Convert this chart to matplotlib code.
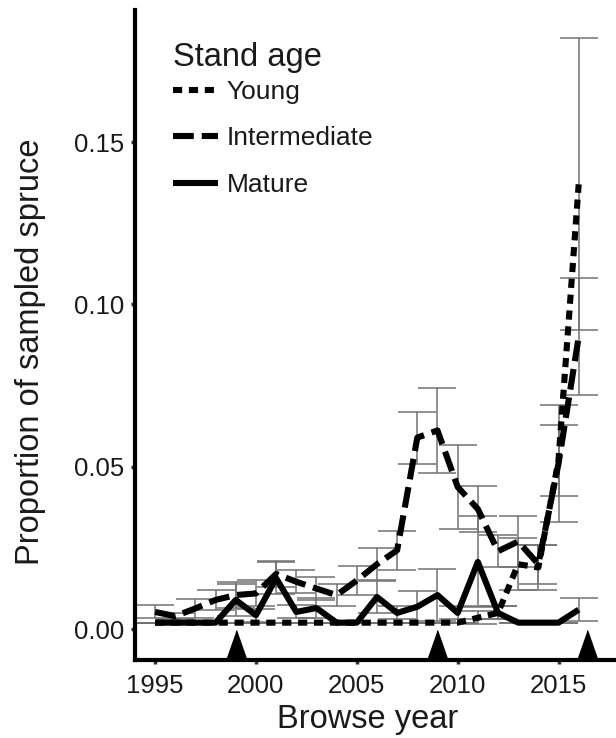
import numpy as np
from matplotlib import pyplot as plt

plt.rcParams['font.family'] = ['Liberation Sans', 'DejaVu Sans']

TEXT = '#1a1a1a'

years = list(range(1995, 2017))

young = [0.002, 0.002, 0.002, 0.002, 0.002, 0.002, 0.002, 0.002, 0.002, 0.002, 0.002,
         0.002, 0.002, 0.002, 0.002, 0.002, 0.0035, 0.005, 0.020, 0.019, 0.052, 0.137]
young_se = [0, 0, 0, 0, 0, 0, 0, 0, 0, 0, 0,
            0, 0, 0, 0, 0, 0.002, 0.002, 0.008, 0.007, 0.011, 0.045]

intermediate = [0.0053, 0.004, 0.0064, 0.009, 0.0105, 0.011, 0.017, 0.0146, 0.0125, 0.0105, 0.015,
                0.020, 0.0243, 0.059, 0.0612, 0.0438, 0.037, 0.024, 0.027, 0.020, 0.051, 0.090]
intermediate_se = [0.002, 0.001, 0.003, 0.003, 0.004, 0.004, 0.004, 0.0035, 0.0035, 0.0035, 0.0045,
                   0.005, 0.006, 0.008, 0.013, 0.013, 0.007, 0.005, 0.008, 0.006, 0.018, 0.018]

mature = [0.002, 0.002, 0.002, 0.002, 0.009, 0.0043, 0.0157, 0.0053, 0.0065, 0.002, 0.002,
          0.0099, 0.005, 0.0069, 0.0105, 0.005, 0.0207, 0.005, 0.002, 0.002, 0.002, 0.006]
mature_se = [0, 0, 0, 0, 0.005, 0.002, 0.005, 0.002, 0.003, 0, 0,
             0.005, 0.002, 0.005, 0.008, 0.002, 0.014, 0.002, 0, 0, 0, 0.0035]

outbreak_years = [1999, 2009, 2016.4]

series = [
    ('Young', young, young_se, (1.5, 1.1)),
    ('Intermediate', intermediate, intermediate_se, (3.4, 1.3)),
    ('Mature', mature, mature_se, None),
]

fig = plt.figure(figsize=(6.16, 7.38), dpi=100)
ax = fig.add_axes([0.219, 0.1057, 0.781, 0.8808])

for name, vals, se, dash in series:
    ax.errorbar(years, vals, yerr=se, fmt='none', ecolor='#727272',
                elinewidth=1.1, capsize=13.5, capthick=1.1, zorder=1)

for name, vals, se, dash in series:
    line, = ax.plot(years, vals, color='black', lw=4.4, label=name,
                    solid_capstyle='butt', dash_capstyle='butt', zorder=2)
    if dash is not None:
        line.set_dashes(dash)

# outbreak markers sitting on the x axis
tri = [(-0.35, 0), (0.35, 0), (0, 1)]
ylo, yhi = -0.0095, 0.1907
ax.plot(outbreak_years, [ylo] * len(outbreak_years), ls='none', marker=tri,
        markersize=43, color='black', clip_on=False, zorder=3)

ax.set_xlim(1994, 2017.85)
ax.set_ylim(ylo, yhi)
ax.set_xticks([1995, 2000, 2005, 2010, 2015])
ax.set_yticks([0.0, 0.05, 0.10, 0.15])
ax.set_yticklabels(['0.00', '0.05', '0.10', '0.15'])

for side in ['top', 'right']:
    ax.spines[side].set_visible(False)
for side in ['left', 'bottom']:
    ax.spines[side].set_linewidth(3)
    ax.spines[side].set_color('black')

ax.tick_params(length=3, width=2.5, color='#333333', labelsize=18.5,
               labelcolor=TEXT, pad=5)
ax.tick_params(axis='x', pad=7)

ax.set_xlabel('Browse year', fontsize=23.5, color=TEXT)
ax.set_ylabel('Proportion of sampled spruce', fontsize=23.5, color=TEXT)
ax.xaxis.set_label_coords(0.483, -0.068)
ax.xaxis.label.set_va('top')
ax.yaxis.set_label_coords(-0.218, 0.474)
ax.yaxis.label.set_va('center')

leg = ax.legend(title='Stand age', loc='upper left', bbox_to_anchor=(0.057, 0.967),
                frameon=False, fontsize=19, title_fontsize=23.5,
                handlelength=1.7, handletextpad=0.35, labelspacing=0.85,
                borderaxespad=0)
leg._legend_box.align = 'left'
leg._legend_box.sep = 5
for t in leg.get_texts():
    t.set_color(TEXT)
leg.get_title().set_color(TEXT)

fig.savefig('out.png', dpi=100)
